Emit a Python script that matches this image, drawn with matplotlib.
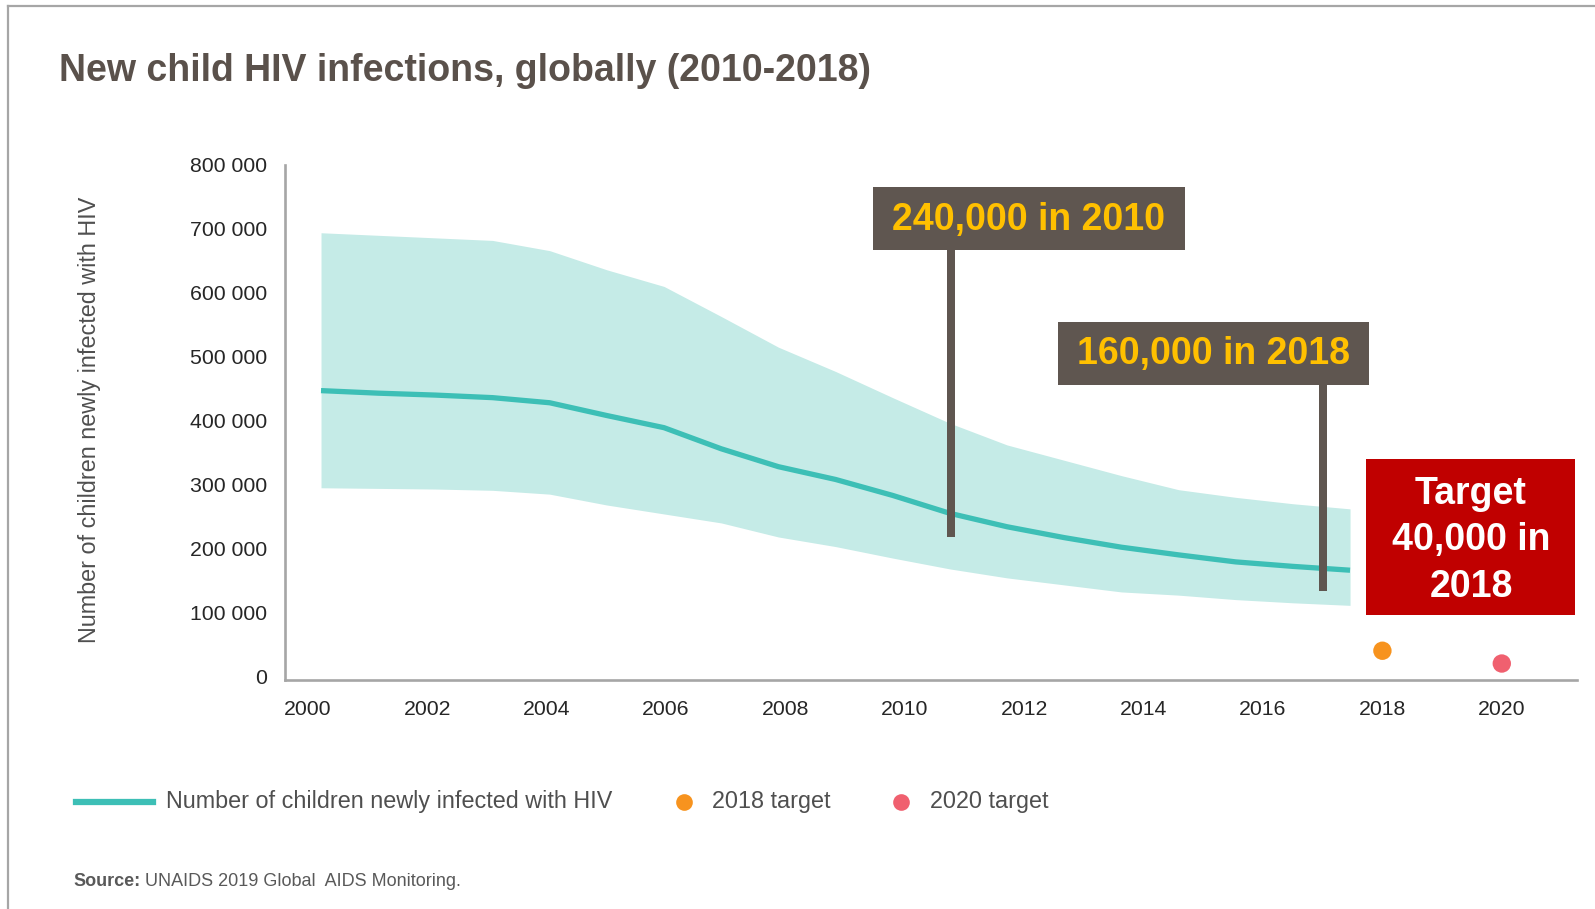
import numpy as np
import matplotlib.pyplot as plt
from matplotlib.lines import Line2D
from matplotlib.patches import Rectangle

plt.rcParams['font.family'] = ['Liberation Sans', 'DejaVu Sans']

W, H = 1595, 909

# estimates of new child HIV infections, 2000-2018
years = np.arange(2000, 2019)
infections = [447000, 443000, 440000, 436000, 428000, 408000, 389000, 356000, 328000, 308000,
              283000, 255000, 234000, 217000, 202000, 190000, 179000, 172000, 166000]
upper = [694000, 690000, 686000, 682000, 666000, 636000, 610000, 563000, 515000, 477000,
         436000, 396000, 362000, 338000, 314000, 292000, 280000, 270000, 262000]
lower = [295000, 294000, 293000, 291000, 285000, 268000, 254000, 240000, 218000, 203000,
         185000, 168000, 154000, 143000, 132000, 127000, 120000, 115000, 111000]

target_years = [2018, 2020]
target_values = [40000, 20000]
target_colors = ['#F7931E', '#F0606F']
target_names = ['2018 target', '2020 target']

x_ticks = list(range(2000, 2021, 2))
y_ticks = list(range(0, 800001, 100000))
y_labels = ['0' if v == 0 else '%d 000' % (v // 1000) for v in y_ticks]

teal = '#3DBFB6'
band = '#C5EBE7'
axis_grey = '#A6A6A6'
text_grey = '#4F4F4F'
box_col = '#5F5650'


def fx(px):
    return px / W


def fy(py):
    return 1 - py / H


fig = plt.figure(figsize=(W / 100, H / 100), dpi=100)
fig.patch.set_facecolor('white')

# thin frame on the top and left edges
fig.add_artist(Line2D([fx(8), 1], [fy(5.5), fy(5.5)], color=axis_grey, lw=1.6))
fig.add_artist(Line2D([fx(7.5), fx(7.5)], [fy(5.5), 0], color=axis_grey, lw=1.6))

fig.text(fx(59), fy(71), 'New child HIV infections, globally (2010-2018)',
         fontsize=27, fontweight='bold', color='#5A514B', va='center', ha='left')

ax_w = (1577 - 285) / W
ax = fig.add_axes([fx(285), fy(679.5), ax_w, (679.5 - 165) / H])
ax.set_xlim(1999.615, 2021.26)
ax.set_ylim(-5000, 800000)
for s in ['top', 'right']:
    ax.spines[s].set_visible(False)
for s in ['left', 'bottom']:
    ax.spines[s].set_color(axis_grey)
    ax.spines[s].set_linewidth(1.9)
ax.set_xticks(x_ticks)
ax.set_xticklabels([str(x) for x in x_ticks])
ax.set_yticks(y_ticks)
ax.set_yticklabels(y_labels)
ax.tick_params(length=0, labelsize=15.3, labelcolor='#262626')
ax.tick_params(axis='y', pad=13)
ax.tick_params(axis='x', pad=15)
ax.set_ylabel('Number of children newly infected with HIV', fontsize=16.8,
              color=text_grey)
ax.yaxis.set_label_coords((101 - 285) / W / ax_w, 0.505)

ax.scatter(target_years, target_values, s=175, c=target_colors, zorder=5, linewidths=0)

# the series sits on its own x scale over the same box
ax2 = ax.twiny()
ax2.set_xlim(1999.37, 2021.97)
ax2.set_ylim(ax.get_ylim())
ax2.axis('off')
ax2.fill_between(years, lower, upper, color=band, lw=0)
ax2.plot(years, infections, color=teal, lw=3.8, solid_joinstyle='round',
         solid_capstyle='butt')


# callout boxes with pointers
def callout(x0, x1, y0, y1, px, pbottom, label):
    fig.add_artist(Rectangle((fx(px - 4), fy(pbottom)), 8 / W, (pbottom - y1) / H,
                             color=box_col, lw=0, zorder=6))
    fig.add_artist(Rectangle((fx(x0), fy(y1)), (x1 - x0) / W, (y1 - y0) / H,
                             color=box_col, lw=0, zorder=6))
    fig.text(fx((x0 + x1) / 2), fy((y0 + y1) / 2 + 1), label, color='#FFC000',
             fontsize=27, fontweight='bold', ha='center', va='center', zorder=7)


callout(873, 1185, 187, 250, 951, 537, '240,000 in 2010')
callout(1058, 1369, 321.5, 384.5, 1322.5, 590.5, '160,000 in 2018')

fig.add_artist(Rectangle((fx(1366), fy(614.5)), (1575 - 1366) / W, (614.5 - 459) / H,
                         color='#C00000', lw=0, zorder=6))
fig.text(fx(1471), fy(540.5), 'Target\n40,000 in\n2018', color='white', fontsize=27,
         fontweight='bold', ha='center', va='center', linespacing=1.36, zorder=7)

# legend row
ly = fy(801.5)
fig.add_artist(Line2D([fx(76), fx(153)], [ly, ly], color=teal, lw=4.5))
fig.text(fx(166), ly, 'Number of children newly infected with HIV', fontsize=16.8,
         color=text_grey, va='center', ha='left')
for cx, tx, col, name in zip([683.5, 901], [712, 930], target_colors, target_names):
    fig.add_artist(Line2D([fx(cx)], [ly], marker='o', ms=12, color=col, mec='none'))
    fig.text(fx(tx), ly, name, fontsize=16.8, color=text_grey, va='center', ha='left')

src = fig.text(fx(73), fy(881.5), 'Source:', fontsize=13, fontweight='bold',
               color='#595959', va='center', ha='left')
ax.annotate(' UNAIDS 2019 Global  AIDS Monitoring.', xy=(1, 0), xycoords=src,
            fontsize=13, color='#595959', va='bottom', ha='left', annotation_clip=False)

fig.savefig('out.png', dpi=100)
